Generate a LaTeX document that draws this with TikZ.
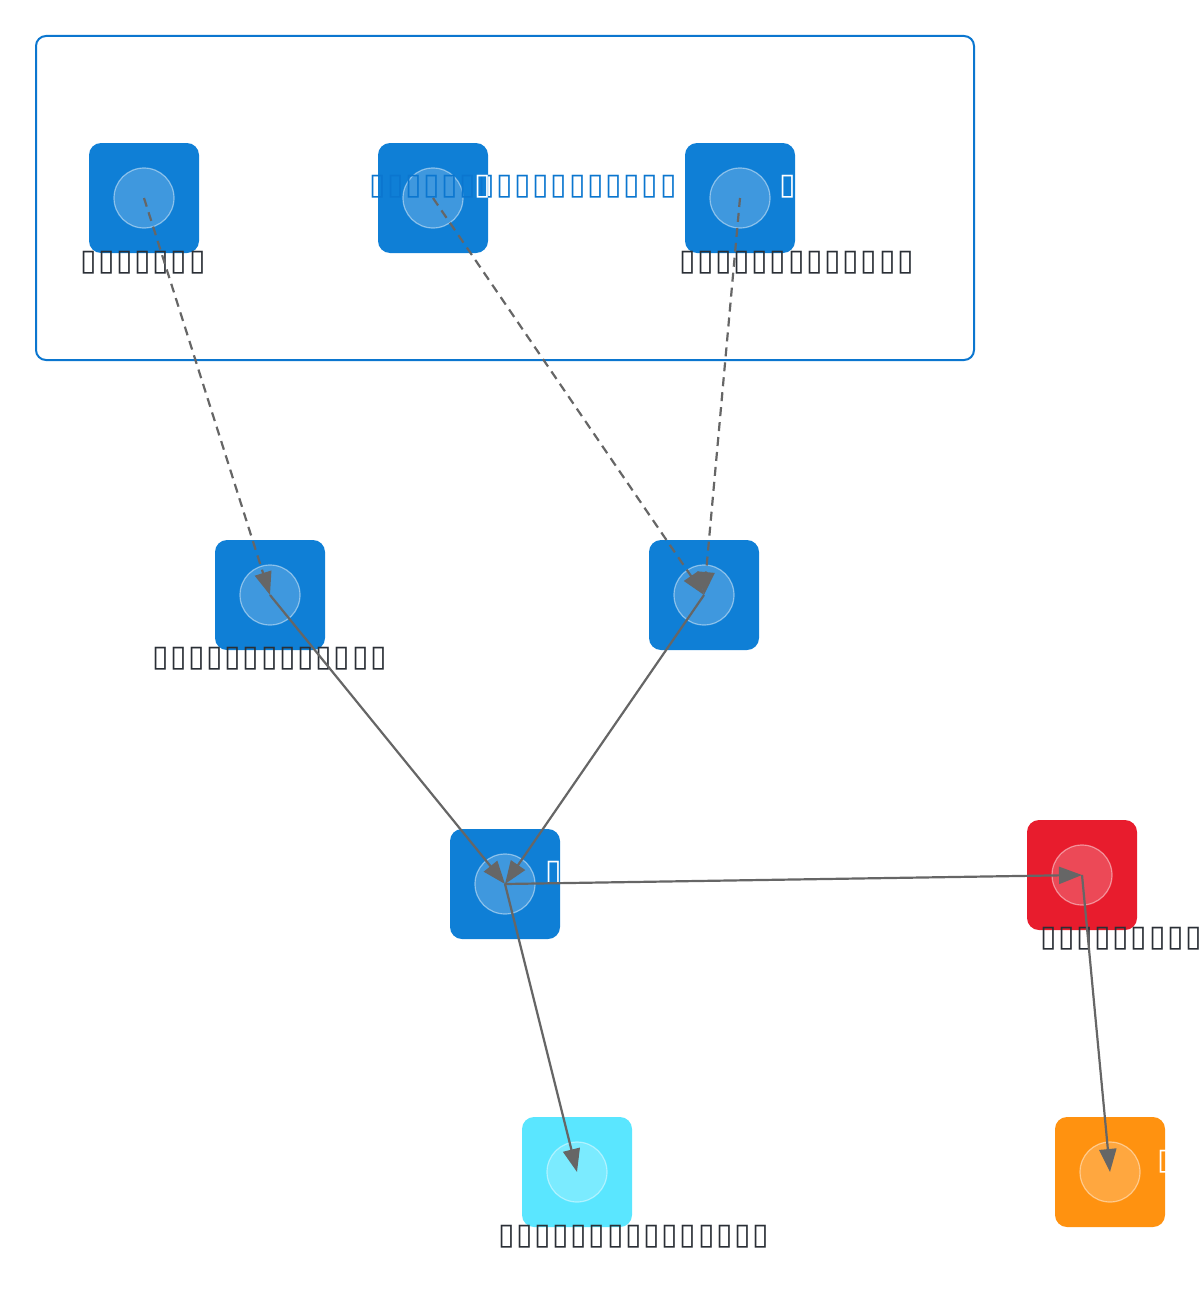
\documentclass[tikz,border=0pt]{standalone}
\usepackage{fontspec}
\setmainfont{DejaVu Sans}
\usetikzlibrary{arrows.meta}
\definecolor{azblue}{HTML}{0F7FD6}
\definecolor{azred}{HTML}{E81C2D}
\definecolor{azcyan}{HTML}{5AE6FF}
\definecolor{azorange}{HTML}{FF9210}
\definecolor{grpline}{HTML}{0B76CF}
\definecolor{edgegray}{HTML}{666666}
\definecolor{labelink}{HTML}{2A2F36}
% one missing glyph, full width
\newcommand\tofu{\makebox[18.2pt]{▯}}
\newcommand\tofus[1]{\foreach \i in {1,...,#1}{\tofu}}
\tikzset{
  svc/.style={rounded corners=12pt, minimum width=110pt, minimum height=110pt, inner sep=0pt, draw=none, fill=#1},
  svcring/.style={circle, minimum size=60pt, inner sep=0pt, fill=white, fill opacity=0.2, draw=white, draw opacity=0.45, line width=1.2pt},
  svclabel/.style={text=labelink, font=\fontsize{30}{32}\selectfont, inner sep=0pt},
  svctag/.style={text=white, font=\fontsize{30}{32}\selectfont, inner sep=0pt, anchor=west},
  link/.style={draw=edgegray, line width=2.2pt, -{Triangle[length=23pt,width=17pt]}},
  weaklink/.style={link, dashed, dash pattern=on 9pt off 6pt}
}
\begin{document}
\begin{tikzpicture}[y=1pt, x=1pt, yscale=-1, xscale=1]
\useasboundingbox (0,0) rectangle (1200,1314);
% group frame
\draw[grpline, line width=2pt, rounded corners=10pt] (36,36) rectangle (974,360);
% services
\node[svc=azblue] (ingest) at (144,198) {};
\node[svc=azblue] (queue) at (433,198) {};
\node[svc=azblue] (store) at (740,198) {};
\node[svc=azblue] (parse) at (270,595) {};
\node[svc=azblue] (enrich) at (704,595) {};
\node[svc=azblue] (core) at (505,884) {};
\node[svc=azred] (alert) at (1082,875) {};
\node[svc=azcyan] (report) at (577,1172) {};
\node[svc=azorange] (archive) at (1110,1172) {};
\foreach \n in {ingest,queue,store,parse,enrich,core,alert,report,archive}
  \node[svcring] (\n-ring) at (\n.center) {};
% group title
\node[text=grpline, font=\fontsize{30}{32}\selectfont, inner sep=0pt, anchor=west] (grptitle) at (368,187) {\tofus{17}};
% tags right of icons
\node[svctag] (queue-tag) at (473,187) {\tofu};
\node[svctag] (store-tag) at (778,187) {\tofu};
\node[svctag] (core-tag) at (544,873) {\tofu};
\node[svctag] (archive-tag) at (1156,1162) {\tofu};
% names
\node[svclabel, anchor=west] (ingest-name) at (79,263) {\tofus{7}};
\node[svclabel, anchor=west] (store-name) at (678,263) {\tofus{13}};
\node[svclabel, anchor=west] (parse-name) at (151,659) {\tofus{13}};
\node[svclabel, anchor=west] (alert-name) at (1039,939) {\tofus{10}};
\node[svclabel, anchor=west] (report-name) at (497,1237) {\tofus{15}};
% flows
\draw[weaklink] (ingest.center) -- (parse.center);
\draw[weaklink] (queue.center) -- (enrich.center);
\draw[weaklink] (store.center) -- (enrich.center);
\draw[link] (parse.center) -- (core.center);
\draw[link] (enrich.center) -- (core.center);
\draw[link] (core.center) -- (alert.center);
\draw[link] (core.center) -- (report.center);
\draw[link] (alert.center) -- (archive.center);
\end{tikzpicture}
\end{document}
